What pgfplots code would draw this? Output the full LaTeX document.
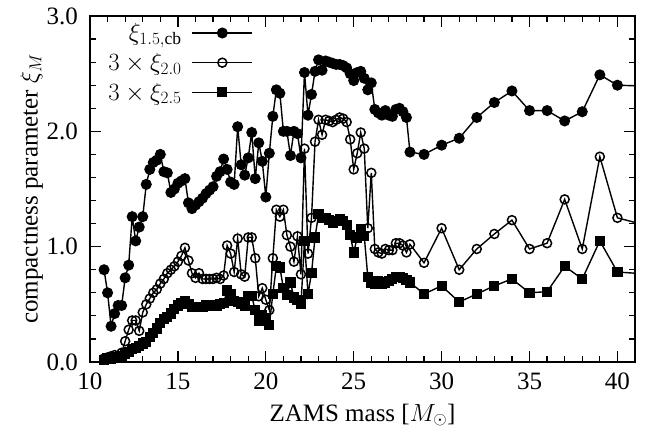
\documentclass[border=0pt]{standalone}
\usepackage{pgfplots}
\pgfplotsset{compat=1.18}
\usepackage{pgfplotstable}
\usepackage{fontspec}
\setmainfont{Liberation Serif}

\pgfplotstableread{
m a b c
10.8 0.80 0.03 0.02
11.0 0.60 0.04 0.03
11.2 0.31 0.05 0.03
11.4 0.42 0.06 0.04
11.6 0.49 0.05 0.04
11.8 0.49 0.08 0.05
12.0 0.73 0.18 0.07
12.2 0.84 0.28 0.09
12.4 1.26 0.36 0.11
12.6 1.05 0.36 0.12
12.8 1.17 0.27 0.14
13.0 1.26 0.43 0.16
13.2 1.54 0.50 0.17
13.4 1.67 0.55 0.22
13.6 1.73 0.60 0.25
13.8 1.75 0.63 0.29
14.0 1.80 0.68 0.34
14.2 1.65 0.72 0.37
14.4 1.64 0.77 0.39
14.6 1.47 0.80 0.42
14.8 1.50 0.83 0.46
15.0 1.55 0.87 0.49
15.2 1.57 0.92 0.51
15.4 1.59 0.99 0.53
15.6 1.38 0.88 0.50
15.8 1.33 0.77 0.48
16.0 1.36 0.73 0.48
16.2 1.39 0.77 0.48
16.4 1.42 0.72 0.48
16.6 1.46 0.72 0.49
16.8 1.49 0.72 0.49
17.0 1.52 0.72 0.49
17.2 1.61 0.73 0.49
17.4 1.65 0.72 0.50
17.6 1.76 0.75 0.51
17.8 1.67 1.01 0.62
18.0 1.56 0.94 0.59
18.2 1.54 0.78 0.53
18.4 2.04 1.07 0.52
18.6 1.71 0.76 0.50
18.8 1.62 0.74 0.49
19.0 1.77 1.08 0.57
19.2 1.99 1.08 0.57
19.4 1.59 0.90 0.45
19.6 1.90 0.57 0.36
19.8 1.74 0.64 0.41
20.0 1.43 0.54 0.38
20.2 1.81 0.45 0.32
20.4 2.13 0.90 0.59
20.6 2.36 1.32 0.83
20.8 2.33 1.26 0.82
21.0 2.00 1.32 0.64
21.2 2.00 1.10 0.58
21.4 1.79 1.00 0.69
21.6 2.00 0.87 0.56
21.8 1.98 1.09 0.54
22.0 1.77 0.76 0.50
22.2 2.51 1.85 1.05
22.4 2.14 0.94 0.59
22.6 2.32 1.25 0.77
22.8 2.52 1.91 1.08
23.0 2.62 2.10 1.28
23.2 2.53 1.97 1.25
23.4 2.61 2.10 1.25
23.6 2.60 2.09 1.23
23.8 2.59 2.08 1.21
24.0 2.58 2.10 1.22
24.2 2.58 2.12 1.24
24.4 2.57 2.11 1.22
24.6 2.55 2.08 1.19
24.8 2.50 1.93 1.10
25.0 2.44 1.67 0.95
25.2 2.51 1.81 1.08
25.4 2.52 1.99 1.15
25.6 2.46 1.85 1.09
25.8 2.36 1.16 0.74
26.0 2.42 1.64 0.69
26.2 2.19 0.98 0.68
26.4 2.16 0.95 0.70
26.6 2.14 0.94 0.68
26.8 2.18 0.98 0.69
27.0 2.14 0.97 0.70
27.2 2.13 0.97 0.72
27.4 2.19 1.03 0.74
27.6 2.20 1.03 0.74
27.8 2.17 1.01 0.73
28.0 2.12 0.95 0.71
28.2 1.82 1.02 0.69
29 1.80 0.86 0.59
30 1.88 1.16 0.66
31 1.94 0.80 0.52
32 2.12 0.98 0.59
33 2.25 1.11 0.66
34 2.35 1.23 0.72
35 2.18 0.98 0.60
36 2.18 1.03 0.61
37 2.09 1.41 0.83
38 2.17 0.98 0.72
39 2.49 1.78 1.05
40 2.40 1.25 0.78
42 2.39 1.17 0.76
}\data

\begin{document}
\begin{tikzpicture}[font=\fontsize{25bp}{30bp}\selectfont]
\begin{axis}[
  scale only axis, width=545bp, height=346bp,
  xmin=10, xmax=41, ymin=0, ymax=3,
  xtick={10,15,...,40}, ytick={0,1,2,3},
  minor x tick num=4, minor y tick num=4,
  tick align=inside, major tick length=11bp, minor tick length=6bp,
  every tick/.style={line width=1.2bp, black},
  axis line style={line width=1.6bp},
  /pgf/number format/assume math mode=true,
  yticklabel style={/pgf/number format/.cd, fixed, fixed zerofill, precision=1, /tikz/.cd, inner sep=0pt, xshift=-12bp},
  xticklabel style={inner sep=0pt, yshift=-11bp},
  xlabel={ZAMS mass [$M_\odot$]},
  ylabel={compactness parameter $\xi_M$},
  xlabel style={at={(axis description cs:0.5,0)}, anchor=base, yshift=-59bp},
  legend style={draw=none, fill=none, at={(0.305,0.99)}, anchor=north east,
    legend cell align=right, row sep=7bp, column sep=8bp, font=\fontsize{25bp}{30bp}\selectfont},
  legend plot pos=right,
  legend image code/.code={\draw[mark repeat=2,mark phase=2] plot coordinates {(0bp,0bp)(30bp,0bp)(60bp,0bp)};},
]
\addplot[black, line width=1.4bp, mark=*, mark size=4.8bp] table[x=m,y=a]{\data};
\addlegendentry{$\xi_{1.5,\mathrm{cb}}$}
\addplot[black, line width=1.4bp, mark=o, mark size=4.5bp, mark options={line width=1.5bp, fill=white}] table[x=m,y=b]{\data};
\addlegendentry{$3\times\xi_{2.0}$}
\addplot[black, line width=1.4bp, mark=square*, mark size=4.4bp] table[x=m,y=c]{\data};
\addlegendentry{$3\times\xi_{2.5}$}
\end{axis}
\pgfresetboundingbox
\path[use as bounding box] ([shift={(-90bp,-67bp)}]current axis.south west) rectangle ([shift={(11bp,16bp)}]current axis.north east);
\end{tikzpicture}
\end{document}
